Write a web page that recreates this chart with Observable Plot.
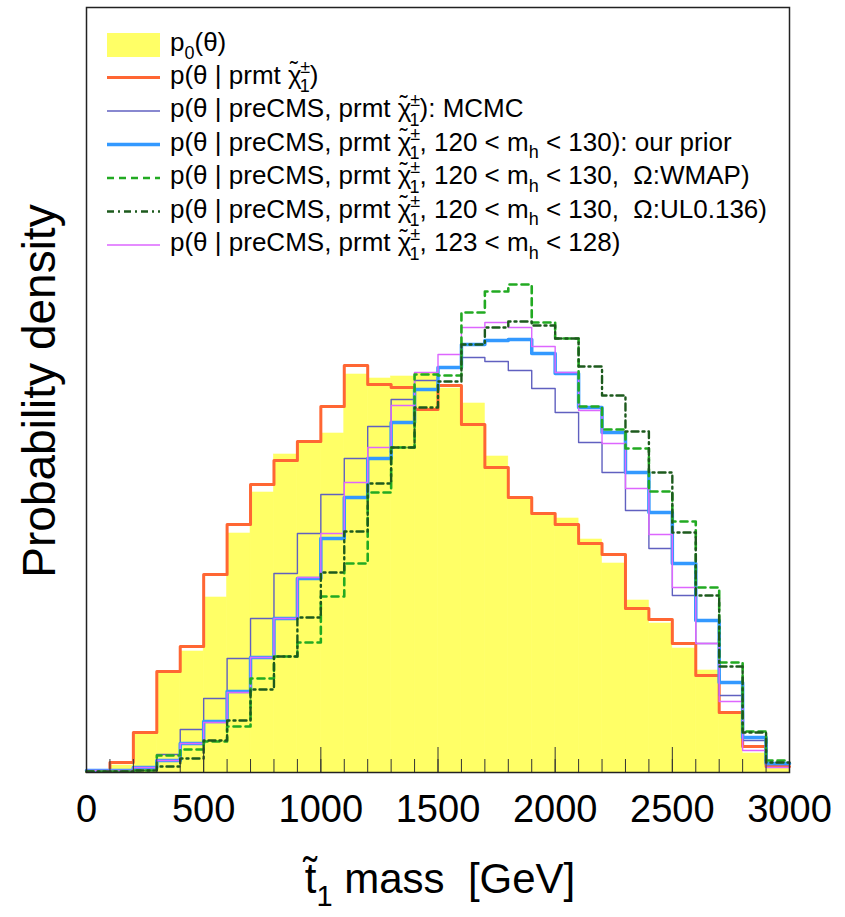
<!DOCTYPE html>
<html>
<head>
<meta charset="utf-8">
<script src="https://cdn.jsdelivr.net/npm/d3@7"></script>
<script src="https://cdn.jsdelivr.net/npm/@observablehq/plot@0.6"></script>
<style>
  html, body { margin: 0; padding: 0; background: white; }
  #chart { width: 845px; height: 917px; }
</style>
</head>
<body>
<div id="chart"></div>
<script>
// lower edges of the 100 GeV mass bins
const massBins = [0,100,200,300,400,500,600,700,800,900,1000,1100,1200,1300,1400,1500,1600,1700,1800,1900,2000,2100,2200,2300,2400,2500,2600,2700,2800,2900];
const massMax = 3000;
// probability density (arbitrary units), one value per bin
const p0        = [0.0,0.7,4.0,10.1,12.1,17.5,23.9,28.0,31.8,33.0,33.9,39.8,39.4,39.6,39.9,38.4,36.9,31.6,27.3,25.9,25.4,23.3,20.9,17.2,14.9,12.4,10.2,6.0,1.9,0.5];
const prmt      = [0.1,1.0,4.0,10.1,12.6,19.8,24.8,28.8,31.2,33.1,36.6,40.7,38.8,38.5,36.3,38.7,34.8,30.5,27.5,25.9,24.8,22.9,21.8,16.4,15.3,12.9,9.7,6.0,2.6,0.6];
const mcmc      = [0.1,0.1,0.4,1.8,4.3,7.4,11.4,15.4,19.9,23.9,27.8,31.4,34.6,37.3,39.2,40.5,41.5,41.1,40.2,38.4,36.0,33.0,30.0,26.2,22.4,17.7,12.9,7.7,3.2,0.8];
const ourPrior  = [0.2,0.2,0.5,1.2,2.9,5.1,8.1,11.5,15.4,19.4,23.4,27.5,31.4,35.0,38.3,40.5,42.8,43.2,43.3,41.9,39.9,36.5,34.0,30.0,26.0,20.9,15.2,9.0,3.5,0.9];
const wmap      = [0.1,0.1,0.2,1.7,2.3,3.1,4.6,9.4,11.6,13.0,17.6,20.9,28.0,32.5,39.8,39.7,46.0,48.1,48.8,45.0,43.4,36.6,34.3,32.4,28.1,25.1,18.5,11.0,4.1,1.2];
const ul0136    = [0.1,0.1,0.2,0.6,1.4,3.2,5.2,8.3,11.6,15.5,20.0,24.1,28.9,32.5,36.5,39.1,42.8,44.5,45.1,44.7,43.4,40.6,37.7,34.1,30.0,24.0,17.7,10.6,4.0,1.0];
const mh123128  = [0.2,0.2,0.5,1.2,2.9,5.0,8.0,11.5,15.4,19.5,23.9,29.0,32.5,36.7,40.0,41.8,44.5,45.0,44.5,42.6,40.0,36.2,32.9,28.4,23.8,18.5,12.9,7.1,2.2,0.5];
const xTicks = [0,500,1000,1500,2000,2500,3000];
const xTickLabels = ["0","500","1000","1500","2000","2500","3000"];
const minorTicks = [0,100,200,300,400,500,600,700,800,900,1000,1100,1200,1300,1400,1500,1600,1700,1800,1900,2000,2100,2200,2300,2400,2500,2600,2700,2800,2900,3000];
const yLabel = "Probability density";

const yMax = 76.5;

function steps(vals) {
  return massBins.map((x, i) => ({x, y: vals[i]})).concat([{x: massMax, y: vals[vals.length - 1]}]);
}
const bars = massBins.map((x, i) => ({x1: x, x2: i + 1 < massBins.length ? massBins[i + 1] : massMax, y: p0[i]}));

const series = [
  {vals: prmt,     stroke: "#ff6633", width: 3,   dash: null},
  {vals: mcmc,     stroke: "#6060c0", width: 1.4, dash: null},
  {vals: ourPrior, stroke: "#3399ff", width: 3.5, dash: null},
  {vals: mh123128, stroke: "#dd66ff", width: 1.4, dash: null},
  {vals: wmap,     stroke: "#22aa22", width: 2.6, dash: "7,5"},
  {vals: ul0136,   stroke: "#1d5a1d", width: 2.4, dash: "7,4,2,4"}
];

const chart = Plot.plot({
  width: 845,
  height: 917,
  marginTop: 7,
  marginBottom: 145,
  marginLeft: 86,
  marginRight: 56,
  style: {fontFamily: "'Liberation Sans', Arial, sans-serif", fontSize: "38px", background: "white", color: "black"},
  x: {domain: [0, massMax], ticks: xTicks, tickFormat: (d) => xTickLabels[xTicks.indexOf(d)], tickSize: 0, tickPadding: 23, label: null},
  y: {domain: [0, yMax], axis: null},
  marks: [
    Plot.rectY(bars, {x1: "x1", x2: "x2", y: "y", fill: "#ffff66", stroke: "#ffff66", strokeWidth: 0.6}),
    ...series.map(s => Plot.line(steps(s.vals), {x: "x", y: "y", curve: "step-after", stroke: s.stroke, strokeWidth: s.width, strokeDasharray: s.dash})),
    Plot.ruleX(minorTicks, {y1: 0, y2: yMax * 13 / 765, stroke: "#333", strokeWidth: 1}),
    Plot.ruleX(xTicks, {y1: 0, y2: yMax * 25 / 765, stroke: "#333", strokeWidth: 1}),
    Plot.frame({stroke: "#222", strokeWidth: 1.5})
  ]
});
document.getElementById("chart").appendChild(chart);

const svg = d3.select(chart);
const FONT = "'Liberation Sans', Arial, sans-serif";

// helper: write text with sub/superscripts
function richText(g, x, y, parts, size, anchor) {
  const t = g.append("text").attr("x", x).attr("y", y)
    .attr("font-family", FONT).attr("font-size", size).attr("fill", "black")
    .attr("text-anchor", anchor || "start")
    .style("white-space", "pre");
  let off = 0;
  const small = Math.round(size * 0.68);
  parts.forEach(p => {
    const [str, kind] = Array.isArray(p) ? p : [p, "n"];
    const ts = t.append("tspan").text(str);
    if (kind === "n") { ts.attr("dy", -off); off = 0; }
    else if (kind === "tilde") {
      // tilde placed over the preceding glyph
      const d = -size * 0.2;
      ts.attr("dy", d - off).attr("dx", -size * 0.45).attr("font-size", size * 0.9); off = d;
    }
    else if (kind === "sup") { const d = -size * 0.42; ts.attr("dy", d - off).attr("dx", size * 0.1).attr("font-size", small); off = d; }
    else if (kind === "sub") { const d = size * 0.3; ts.attr("dy", d - off).attr("font-size", small); off = d; }
    else if (kind === "under") { const d = size * 0.33; ts.attr("dy", d - off).attr("dx", -small * 0.584).attr("font-size", small); off = d; }
  });
  return t;
}

const chi = ["χ", ["˜", "tilde"], ["±", "sup"], ["1", "under"]];
const legendRows = [
  {kind: "box", fill: "#ffff66", parts: ["p", ["0", "sub"], "(θ)"]},
  {kind: "line", s: series[0], parts: ["p(θ | prmt ", ...chi, ")"]},
  {kind: "line", s: series[1], parts: ["p(θ | preCMS, prmt ", ...chi, "): MCMC"]},
  {kind: "line", s: series[2], parts: ["p(θ | preCMS, prmt ", ...chi, ", 120 < m", ["h", "sub"], " < 130): our prior"]},
  {kind: "line", s: series[4], parts: ["p(θ | preCMS, prmt ", ...chi, ", 120 < m", ["h", "sub"], " < 130,  Ω:WMAP)"]},
  {kind: "line", s: series[5], parts: ["p(θ | preCMS, prmt ", ...chi, ", 120 < m", ["h", "sub"], " < 130,  Ω:UL0.136)"]},
  {kind: "line", s: series[3], parts: ["p(θ | preCMS, prmt ", ...chi, ", 123 < m", ["h", "sub"], " < 128)"]}
];
const lg = svg.append("g");
const rowY = [45, 77.5, 111, 144.5, 178, 211.5, 245];
legendRows.forEach((r, i) => {
  const cy = rowY[i];
  if (r.kind === "box") {
    lg.append("rect").attr("x", 107).attr("y", cy - 12).attr("width", 53).attr("height", 24).attr("fill", r.fill);
  } else {
    lg.append("line").attr("x1", 107).attr("x2", 160).attr("y1", cy).attr("y2", cy)
      .attr("stroke", r.s.stroke).attr("stroke-width", r.s.width)
      .attr("stroke-dasharray", r.s.dash);
  }
  richText(lg, 170, cy + 6, r.parts, 26, "start");
});

// axis title
richText(svg, 440, 893, ["t̃", ["1", "sub"], " mass  [GeV]"], 42, "middle");

// y label
svg.append("text").attr("transform", "translate(55,391) rotate(-90)")
  .attr("text-anchor", "middle").attr("font-family", FONT).attr("font-size", 46)
  .attr("fill", "black").text(yLabel);
</script>
</body>
</html>
